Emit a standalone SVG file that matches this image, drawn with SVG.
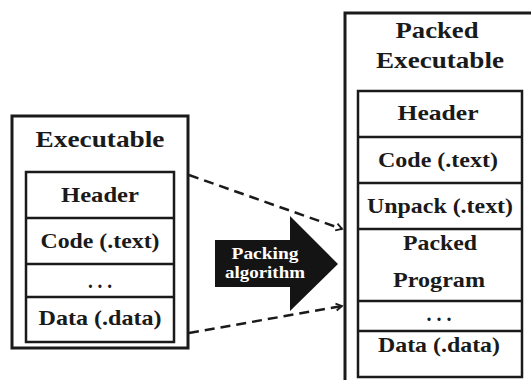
<svg xmlns="http://www.w3.org/2000/svg" width="531" height="380" viewBox="0 0 531 380">
  <style>
    .outer { fill: #fff; stroke: #1a1a1a; stroke-width: 3; }
    .cell { fill: #fff; stroke: #1a1a1a; stroke-width: 2.5; }
    .div { stroke: #1a1a1a; stroke-width: 2.5; }
    .t { font-family: "Liberation Serif", "Times New Roman", serif; font-weight: bold; fill: #1a1a1a; text-anchor: middle; }
    .title { font-size: 23.5px; }
    .item { font-size: 21px; }
    .lbl { font-family: "Liberation Serif", "Times New Roman", serif; font-weight: bold; font-size: 17px; fill: #fff; text-anchor: middle; }
    .link { fill: none; stroke: #1a1a1a; stroke-width: 2.5; stroke-dasharray: 10 6; }
  </style>
  <defs>
    <marker id="chev" markerWidth="10" markerHeight="10" refX="8" refY="5" orient="auto" markerUnits="userSpaceOnUse">
      <path d="M2,1.5 L8,5 L2,8.5" fill="none" stroke="#1a1a1a" stroke-width="1.8"/>
    </marker>
  </defs>
  <rect width="531" height="380" fill="#fff"/>

  <!-- source executable -->
  <g id="executable">
    <rect class="outer" x="12" y="116" width="176" height="232"/>
    <text class="t title" x="100" y="147" textLength="129" lengthAdjust="spacingAndGlyphs">Executable</text>
    <rect class="cell" x="26" y="172" width="148" height="170"/>
    <line class="div" x1="26" y1="218" x2="174" y2="218"/>
    <line class="div" x1="26" y1="264" x2="174" y2="264"/>
    <line class="div" x1="26" y1="297" x2="174" y2="297"/>
    <text class="t item" x="100" y="202" textLength="78" lengthAdjust="spacingAndGlyphs">Header</text>
    <text class="t item" x="100" y="248" textLength="119" lengthAdjust="spacingAndGlyphs">Code (.text)</text>
    <text class="t item" x="100" y="288" textLength="24" lengthAdjust="spacingAndGlyphs">. . .</text>
    <text class="t item" x="100" y="325" textLength="123" lengthAdjust="spacingAndGlyphs">Data (.data)</text>
  </g>

  <!-- packed executable -->
  <g id="packed-executable">
    <rect class="outer" x="345" y="13" width="200" height="400"/>
    <text class="t title" x="437" y="38" textLength="83" lengthAdjust="spacingAndGlyphs">Packed</text>
    <text class="t title" x="440" y="68" textLength="128" lengthAdjust="spacingAndGlyphs">Executable</text>
    <rect class="cell" x="358" y="91" width="164" height="286"/>
    <line class="div" x1="358" y1="137" x2="522" y2="137"/>
    <line class="div" x1="358" y1="183" x2="522" y2="183"/>
    <line class="div" x1="358" y1="229" x2="522" y2="229"/>
    <line class="div" x1="358" y1="301" x2="522" y2="301"/>
    <line class="div" x1="358" y1="331" x2="522" y2="331"/>
    <text class="t item" x="438" y="120" textLength="81" lengthAdjust="spacingAndGlyphs">Header</text>
    <text class="t item" x="438" y="167" textLength="120" lengthAdjust="spacingAndGlyphs">Code (.text)</text>
    <text class="t item" x="440" y="213" textLength="146" lengthAdjust="spacingAndGlyphs">Unpack (.text)</text>
    <text class="t item" x="440" y="250" textLength="74" lengthAdjust="spacingAndGlyphs">Packed</text>
    <text class="t item" x="439" y="287" textLength="92" lengthAdjust="spacingAndGlyphs">Program</text>
    <text class="t item" x="439" y="321" textLength="25" lengthAdjust="spacingAndGlyphs">. . .</text>
    <text class="t item" x="439" y="352" textLength="122" lengthAdjust="spacingAndGlyphs">Data (.data)</text>
  </g>

  <!-- packing step -->
  <g id="packing-algorithm">
    <polygon points="215,240 290,240 290,216 338,264 290,311 290,287 215,287" fill="#141414"/>
    <text class="lbl" x="265" y="259" textLength="67" lengthAdjust="spacingAndGlyphs">Packing</text>
    <text class="lbl" x="265" y="278" textLength="80" lengthAdjust="spacingAndGlyphs">algorithm</text>
  </g>

  <!-- connectors -->
  <g id="connectors">
    <line class="link" x1="189" y1="175" x2="342" y2="229" marker-end="url(#chev)"/>
    <line class="link" x1="189" y1="333" x2="342" y2="306" marker-end="url(#chev)"/>
  </g>
</svg>
